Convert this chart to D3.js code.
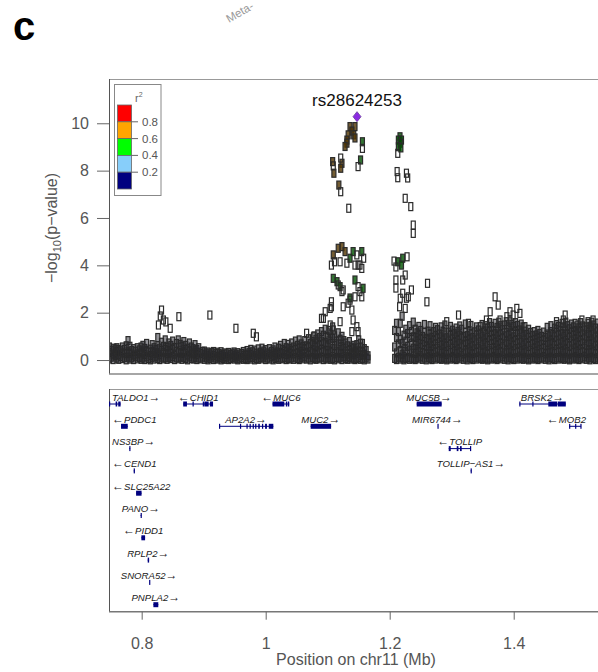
<!DOCTYPE html>
<html><head><meta charset="utf-8">
<script src="https://cdn.jsdelivr.net/npm/d3@7"></script>
<style>body{margin:0;background:#fff}svg{display:block}</style>
</head><body>
<svg id="chart" width="598" height="672"></svg>
<script>
// ---------------- DATA ----------------
const leadSnp = {name: "rs28624253", pos: 1.1473, logp: 10.28};

const xTicks = [0.8, 1.0, 1.2, 1.4];
const xTickLabels = ["0.8", "1", "1.2", "1.4"];
const yTicks = [0, 2, 4, 6, 8, 10];

const r2Breaks = [0.2, 0.4, 0.6, 0.8];
const r2Colors = ["#000080", "#87CEFA", "#00FF00", "#FFA500", "#FF0000"];

// visible start of a rotated label belonging to the figure above
const aboveLabels = ["Meta-"];

// background SNPs: [position (Mb), [-log10 p values at that position]]
const bandLeft = [
 [0.748,[0.05,0.32,0.55]],[0.751,[0.12,0.41]],[0.754,[0.02,0.25,0.50]],[0.757,[0.18,0.47]],
 [0.760,[0.08,0.36,0.52]],[0.763,[0.03,0.22,0.44]],[0.766,[0.15,0.39]],[0.769,[0.06,0.30,0.55]],
 [0.772,[0.10,0.45]],[0.775,[0.01,0.27,0.60]],[0.778,[0.12,0.35,0.82]],[0.781,[0.04,0.29,0.58]],
 [0.784,[0.09,0.40]],[0.787,[0.02,0.21,0.48]],[0.790,[0.14,0.37]],[0.793,[0.05,0.26,0.52]],
 [0.796,[0.11,0.43]],[0.799,[0.03,0.30,0.55]],[0.802,[0.08,0.38,0.62]],[0.805,[0.02,0.24,0.49]],
 [0.808,[0.13,0.41,0.70]],[0.811,[0.06,0.33]],[0.814,[0.01,0.19,0.46]],[0.817,[0.10,0.36,0.65]],
 [0.820,[0.04,0.28,0.52]],[0.823,[0.15,0.44]],[0.826,[0.07,0.31,0.60,0.95]],[0.829,[0.02,0.22,0.50]],
 [0.832,[0.12,0.40,0.75]],[0.835,[0.05,0.33,0.58]],[0.838,[0.09,0.45,0.85]],[0.841,[0.03,0.27,0.55]],
 [0.844,[0.11,0.39,0.72]],[0.847,[0.06,0.30,0.62]],[0.850,[0.14,0.46,0.80]],[0.853,[0.02,0.25,0.53]],
 [0.856,[0.09,0.37,0.70]],[0.859,[0.05,0.31,0.85]],[0.862,[0.12,0.42,0.66]],[0.865,[0.03,0.28,0.58]],
 [0.868,[0.10,0.35,0.78]],[0.871,[0.06,0.44,0.62]],[0.874,[0.01,0.21,0.50]],[0.877,[0.13,0.38,0.72]],
 [0.880,[0.07,0.30,0.55]],[0.883,[0.04,0.26,0.48]],[0.886,[0.11,0.40,0.65]],[0.889,[0.02,0.23,0.44]],
 [0.892,[0.08,0.33,0.52]],[0.895,[0.05,0.28]],[0.898,[0.12,0.36]],[0.901,[0.03,0.22,0.38]],
 [0.904,[0.09,0.30]],[0.907,[0.01,0.18,0.34]],[0.910,[0.06,0.26]],[0.913,[0.12,0.31]],
 [0.916,[0.02,0.20,0.36]],[0.919,[0.08,0.28]],[0.922,[0.04,0.15,0.33]],[0.925,[0.10,0.27]],
 [0.928,[0.01,0.19,0.35]],[0.931,[0.07,0.24]],[0.934,[0.03,0.14,0.30]],[0.937,[0.09,0.26]],
 [0.940,[0.02,0.17,0.32]],[0.943,[0.06,0.23]],[0.946,[0.11,0.29]],[0.949,[0.04,0.18,0.34]],
 [0.952,[0.08,0.25]],[0.955,[0.01,0.16,0.31]],[0.958,[0.05,0.22]],[0.961,[0.10,0.28]],
 [0.964,[0.03,0.19,0.36]],[0.967,[0.07,0.25]],[0.970,[0.02,0.20,0.40]],[0.973,[0.09,0.31]],
 [0.976,[0.04,0.24,0.45]],[0.979,[0.11,0.35]],[0.982,[0.01,0.18,0.42]],[0.985,[0.07,0.29]],
 [0.988,[0.03,0.22,0.47]],[0.991,[0.10,0.33]],[0.994,[0.05,0.26,0.50]],[0.997,[0.12,0.38]],
 [1.000,[0.02,0.21,0.44]],[1.003,[0.08,0.30]],[1.006,[0.04,0.25,0.48]],[1.009,[0.13,0.36]],
 [1.012,[0.01,0.19,0.43]],[1.015,[0.06,0.28,0.55]],[1.018,[0.10,0.34]],[1.021,[0.03,0.23,0.50]],
 [1.024,[0.08,0.31,0.62]],[1.027,[0.05,0.27,0.45]],[1.030,[0.11,0.38,0.70]],[1.033,[0.02,0.24,0.52]],
 [1.036,[0.07,0.33,0.66]],[1.039,[0.04,0.29,0.48]],[1.042,[0.09,0.40,0.72]],[1.045,[0.03,0.26,0.55]],
 [1.048,[0.12,0.44,0.80]],[1.051,[0.06,0.31,0.62]],[1.054,[0.02,0.22,0.50,0.85]],[1.057,[0.10,0.37,0.68]],
 [1.060,[0.05,0.28,0.58]],[1.063,[0.13,0.46,0.82]],[1.066,[0.04,0.33,0.60]],[1.069,[0.08,0.25,0.52,0.90]],
 [1.072,[0.01,0.35,0.70]],[1.075,[0.11,0.42,0.78]],[1.078,[0.06,0.30,0.62,1.02]],[1.081,[0.03,0.24,0.55,0.88]],
 [1.084,[0.09,0.38,0.72,1.10]],[1.087,[0.05,0.29,0.65,0.95]],[1.090,[0.12,0.45,0.80,1.20]],[1.093,[0.02,0.34,0.68,1.05]],
 [1.096,[0.08,0.40,0.75,1.30]],[1.099,[0.04,0.27,0.60,0.98]],[1.102,[0.10,0.42,0.85,1.25]],[1.105,[0.03,0.33,0.70,1.10]],
 [1.108,[0.07,0.48,0.92,1.40]],[1.111,[0.01,0.26,0.62,1.02]],[1.114,[0.11,0.38,0.80]],[1.117,[0.05,0.30,0.68,1.15]],
 [1.120,[0.09,0.44,0.88]],[1.123,[0.02,0.28,0.58,1.00]],[1.126,[0.13,0.50,0.82]],[1.129,[0.06,0.35,0.72]],
 [1.132,[0.03,0.25,0.60]],[1.135,[0.10,0.40,0.78]],[1.138,[0.04,0.30,0.55]],[1.141,[0.08,0.22,0.62]],
 [1.144,[0.02,0.35,0.50]],[1.147,[0.06,0.28,0.65]],[1.150,[0.11,0.38,0.85]],[1.153,[0.03,0.20,0.55]],
 [1.156,[0.07,0.33,0.70]],[1.159,[0.01,0.25,0.48]],[1.162,[0.09,0.40]],[1.165,[0.04,0.18]]
];

const bandRight = [
 [1.208,[0.07,0.55,1.25]],[1.211,[0.02,0.30,0.95,1.55]],[1.214,[0.12,0.68,1.20]],[1.217,[0.04,0.40,0.88,1.55]],
 [1.220,[0.09,0.25,0.70,1.85]],[1.223,[0.01,0.48,1.05]],[1.226,[0.06,0.35,0.80,1.30]],[1.229,[0.11,0.58,1.12]],
 [1.232,[0.03,0.42,0.95,1.45]],[1.235,[0.08,0.30,0.72,1.20]],[1.238,[0.05,0.50,0.98,1.60]],
 [1.241,[0.02,0.28,0.62,0.95,1.30]],[1.244,[0.10,0.45,0.80,1.15]],[1.247,[0.05,0.35,0.70,1.05,1.42]],
 [1.250,[0.13,0.52,0.88,1.25]],[1.253,[0.03,0.30,0.65,1.00]],[1.256,[0.08,0.42,0.78,1.18,1.50]],
 [1.259,[0.01,0.25,0.60,0.92]],[1.262,[0.11,0.48,0.85,1.22]],[1.265,[0.06,0.36,0.72,1.08,1.45]],
 [1.268,[0.02,0.27,0.58,0.96]],[1.271,[0.09,0.44,0.82,1.20]],[1.274,[0.04,0.33,0.68,1.02,1.38]],
 [1.277,[0.12,0.50,0.90,1.28]],[1.280,[0.07,0.38,0.75,1.10]],[1.283,[0.03,0.29,0.62,0.98,1.40]],
 [1.286,[0.10,0.46,0.84,1.22]],[1.289,[0.05,0.34,0.70,1.06,1.48]],[1.292,[0.01,0.24,0.58,0.94]],
 [1.295,[0.08,0.41,0.80,1.18]],[1.298,[0.04,0.31,0.66,1.04,1.42]],[1.301,[0.11,0.49,0.88,1.26]],
 [1.304,[0.06,0.37,0.74,1.12]],[1.307,[0.02,0.28,0.60,0.97,1.35]],[1.310,[0.09,0.45,0.83,1.21]],
 [1.313,[0.05,0.33,0.69,1.05,1.44]],[1.316,[0.13,0.52,0.92,1.30]],[1.319,[0.03,0.26,0.63,1.00]],
 [1.322,[0.08,0.40,0.78,1.16,1.52]],[1.325,[0.01,0.30,0.67,1.03]],[1.328,[0.10,0.47,0.86,1.24]],
 [1.331,[0.06,0.35,0.72,1.09,1.46]],[1.334,[0.02,0.27,0.59,0.95]],[1.337,[0.09,0.43,0.81,1.19]],
 [1.340,[0.04,0.32,0.68,1.06,1.40]],[1.343,[0.12,0.50,0.89,1.27]],[1.346,[0.07,0.38,0.76,1.13]],
 [1.349,[0.03,0.29,0.64,1.01,1.50]],[1.352,[0.10,0.46,0.85,1.23]],[1.355,[0.05,0.34,0.71,1.08,1.45]],
 [1.358,[0.01,0.25,0.60,0.96,1.35]],[1.361,[0.08,0.42,0.82,1.20,1.58]],[1.364,[0.04,0.31,0.67,1.04,1.42]],
 [1.367,[0.11,0.49,0.87,1.25]],[1.370,[0.06,0.37,0.74,1.11,1.55]],[1.373,[0.02,0.28,0.62,0.99,1.38]],
 [1.376,[0.09,0.44,0.83,1.21,1.60]],[1.379,[0.05,0.33,0.70,1.07,1.45]],[1.382,[0.13,0.51,0.90,1.28]],
 [1.385,[0.03,0.26,0.64,1.02,1.48]],[1.388,[0.08,0.40,0.79,1.17,1.62]],[1.391,[0.01,0.30,0.66,1.05,1.40]],
 [1.394,[0.10,0.47,0.86,1.25,1.65]],[1.397,[0.06,0.35,0.73,1.12,1.50]],[1.400,[0.02,0.27,0.61,0.98,1.42]],
 [1.403,[0.09,0.43,0.82,1.20,1.58]],[1.406,[0.04,0.32,0.69,1.07,1.46]],[1.409,[0.12,0.50,0.88,1.27]],
 [1.412,[0.07,0.38,0.75,1.14,1.52]],[1.415,[0.03,0.29,0.63,1.01,1.40]],[1.418,[0.10,0.45,0.84,1.22]],
 [1.421,[0.05,0.34,0.71,1.08]],[1.424,[0.01,0.24,0.58,0.95,1.30]],[1.427,[0.08,0.41,0.80,1.16]],
 [1.430,[0.04,0.31,0.67,1.03]],[1.433,[0.11,0.48,0.86,1.20]],[1.436,[0.06,0.36,0.72,1.06]],
 [1.439,[0.02,0.27,0.60,0.94,1.25]],[1.442,[0.09,0.43,0.79,1.12]],[1.445,[0.05,0.32,0.66,1.00]],
 [1.448,[0.12,0.49,0.85,1.18]],[1.451,[0.03,0.26,0.62,0.96]],[1.454,[0.08,0.40,0.76,1.10,1.38]],
 [1.457,[0.01,0.30,0.65,1.02]],[1.460,[0.10,0.46,0.83,1.20,1.45]],[1.463,[0.06,0.35,0.70,1.08]],
 [1.466,[0.02,0.28,0.61,0.98,1.35]],[1.469,[0.09,0.44,0.81,1.18,1.50]],[1.472,[0.04,0.33,0.68,1.05,1.42]],
 [1.475,[0.11,0.50,0.88,1.26]],[1.478,[0.07,0.37,0.74,1.12,1.55]],[1.481,[0.03,0.29,0.63,1.00,1.40]],
 [1.484,[0.10,0.45,0.83,1.22,1.60]],[1.487,[0.05,0.34,0.70,1.07,1.45]],[1.490,[0.01,0.25,0.59,0.95,1.32]],
 [1.493,[0.08,0.42,0.80,1.18,1.52]],[1.496,[0.04,0.31,0.67,1.04,1.40]],[1.499,[0.12,0.48,0.87,1.24]],
 [1.502,[0.06,0.36,0.73,1.10,1.48]],[1.505,[0.02,0.28,0.62,0.99,1.36]],[1.508,[0.09,0.44,0.82,1.20,1.58]],
 [1.511,[0.05,0.33,0.69,1.06,1.44]],[1.514,[0.13,0.50,0.89,1.27]],[1.517,[0.03,0.27,0.64,1.01,1.40]],
 [1.520,[0.08,0.41,0.78,1.16,1.55]],[1.523,[0.01,0.30,0.66,1.03,1.42]],[1.526,[0.10,0.46,0.85,1.23,1.60]],
 [1.529,[0.06,0.35,0.72,1.10,1.48]],[1.532,[0.02,0.27,0.60,0.97,1.35]],[1.535,[0.09,0.43,0.81,1.19,1.56]],
 [1.538,[0.04,0.32,0.68,1.05]],[1.541,[0.11,0.49,0.86]]
];

// individually read SNPs: [position (Mb), -log10 p, r2]
const peakSnps = [
 [1.136,9.86,0.7],[1.144,9.86,0.7],[1.139,9.67,0.7],[1.142,9.51,0.7],[1.133,9.51,0.7],[1.131,9.29,0.7],
 [1.131,9.16,0.7],[1.144,9.38,0.7],[1.128,9.02,0.7],[1.156,9.22,0.5],[1.156,8.94,0],
 [1.108,8.38,0.7],[1.110,7.89,0.7],[1.123,8.31,0.7],[1.121,8.10,0.7],[1.109,8.20,0],[1.121,8.53,0],
 [1.153,8.45,0.5],[1.149,8.17,0],[1.118,7.39,0.7],[1.121,7.11,0],[1.134,6.41,0],
 [1.2166,9.43,0.5],[1.214,9.29,0.5],[1.219,9.29,0.5],[1.217,9.16,0.5],[1.214,9.01,0.5],[1.213,8.73,0],[1.218,8.96,0.5],
 [1.212,7.96,0],[1.213,7.70,0],[1.227,7.89,0],[1.229,7.69,0],
 [1.225,6.83,0],[1.234,6.48,0],[1.238,5.70,0],[1.238,5.35,0],
 [1.109,4.44,0.6],[1.117,4.72,0.6],[1.123,4.79,0.6],[1.111,4.15,0],[1.128,4.58,0.6],[1.136,4.30,0.5],
 [1.141,4.58,0.5],[1.147,4.44,0],[1.155,4.58,0.5],[1.158,4.30,0],[1.152,4.01,0],[1.144,4.01,0],
 [1.131,4.09,0],[1.106,4.01,0],[1.120,4.15,0],[1.149,4.01,0],[1.155,3.87,0],
 [1.213,4.15,0.5],[1.221,4.30,0.5],[1.228,4.36,0],[1.219,4.01,0.5],[1.207,4.18,0],[1.210,3.93,0],[1.225,3.59,0],
 [1.109,3.45,0.45],[1.115,3.31,0.45],[1.120,3.10,0.45],[1.125,2.96,0],[1.136,2.62,0.45],[1.133,2.40,0],
 [1.144,3.38,0.45],[1.149,3.10,0],[1.152,2.89,0],[1.157,3.03,0.45],[1.144,2.67,0],[1.155,2.67,0],
 [1.117,3.17,0],[1.123,2.89,0],[1.136,2.53,0],[1.125,2.25,0],[1.106,2.25,0],[1.096,2.04,0],[1.093,1.76,0],
 [1.104,1.48,0],[1.139,2.11,0],[1.141,1.69,0],[1.147,1.41,0],[1.149,1.20,0],[1.139,1.20,0],[1.120,1.62,0],
 [1.109,1.27,0],[1.153,0.71,0],[1.157,0.21,0],[1.147,0.42,0],[1.133,0.14,0],[1.141,0.49,0],[1.077,0.98,0],
 [1.066,1.13,0],[1.090,1.76,0],[1.104,2.18,0],[1.106,2.46,0],
 [1.210,3.38,0],[1.221,3.38,0],[1.210,3.04,0],[1.221,2.82,0],[1.217,2.61,0],[1.227,2.61,0],[1.216,2.25,0],
 [1.261,3.24,0],[1.260,2.46,0],[1.235,2.96,0],[1.230,2.67,0],[1.225,2.18,0],
 [1.370,2.67,0],[1.375,2.32,0],[1.405,2.18,0],[1.362,2.04,0],[1.311,1.90,0],[1.292,1.62,0],[1.327,1.55,0],
 [1.399,1.90,0],[1.483,1.90,0],[1.510,1.69,0],[1.528,1.69,0],[1.469,1.62,0],[1.499,1.55,0],[1.520,1.62,0],
 [1.480,1.69,0],[1.356,1.69,0],[1.346,1.41,0],[1.378,1.69,0],[1.389,1.83,0],[1.394,2.04,0],[1.410,1.97,0],[1.418,1.41,0],
 [0.832,2.11,0],[0.835,1.69,0],[0.827,1.48,0],[0.846,1.34,0],[0.860,1.83,0],[0.910,1.90,0],[0.952,1.34,0],
 [0.980,1.13,0],[0.985,0.98,0],[0.830,1.86,0],[0.839,1.61,0]
];

// genes
const geneNames  = ["TALDO1","CHID1","MUC6","MUC5B","BRSK2","PDDC1","AP2A2","MUC2","MIR6744","MOB2",
                    "NS3BP","TOLLIP","CEND1","TOLLIP\u2212AS1","SLC25A22","PANO","PIDD1","RPLP2","SNORA52","PNPLA2"];
const geneStrand = ["+","-","-","+","+","-","+","+","+","-","+","-","-","+","-","+","-","+","+","+"];
const geneRow    = [0,0,0,0,0,1,1,1,1,1,2,2,3,3,4,5,6,7,8,9];
const geneStart  = [0.7473,0.8670,1.0110,1.2435,1.4090,0.7667,0.9247,1.0725,1.2770,1.4893,
                    0.7800,1.2952,0.7871,1.3305,0.7910,0.7983,0.7995,0.8097,0.8120,0.8189];
const geneEnd    = [0.7660,0.9151,1.0380,1.2838,1.4840,0.7775,1.0123,1.1055,1.2772,1.5087,
                    0.7815,1.3306,0.7891,1.3320,0.7998,0.7995,0.8055,0.8120,0.8122,0.8268];
const geneExons  = [
 [[0.7473,0.7480],[0.7580,0.7605],[0.7622,0.7660]],
 [[0.8670,0.8730],[0.8820,0.8840],[0.8985,0.9000],[0.9010,0.9080],[0.9100,0.9151]],
 [[1.0110,1.0300],[1.0325,1.0345],[1.0355,1.0380]],
 [[1.2435,1.2838]],
 [[1.4090,1.4100],[1.4300,1.4310],[1.4558,1.4700],[1.4710,1.4840]],
 [[0.7667,0.7775]],
 [[0.9247,0.9258],[0.9585,0.9595],[0.9690,0.9700],[0.9740,0.9750],[0.9790,0.9800],[0.9830,0.9850],[0.9880,0.9905],[0.9940,0.9960],[0.9990,1.0020],[1.0050,1.0123]],
 [[1.0725,1.1055]],
 [[1.2770,1.2772]],
 [[1.4893,1.4905],[1.4990,1.5000],[1.5075,1.5087]],
 [[0.7800,0.7815]],
 [[1.2952,1.2984],[1.3081,1.3108],[1.3134,1.3161],[1.3295,1.3306]],
 [[0.7871,0.7891]],
 [[1.3305,1.3320]],
 [[0.7910,0.7998]],
 [[0.7983,0.7995]],
 [[0.7995,0.8055]],
 [[0.8097,0.8120]],
 [[0.8120,0.8122]],
 [[0.8189,0.8268]]
];

// ---------------- DRAW ----------------
const FONT = "'Liberation Sans', Arial, Helvetica, sans-serif";
const svg = d3.select("#chart");

const x = d3.scaleLinear().domain([0.7473, 1.544]).range([109, 603]);
const y = d3.scaleLinear().domain([-0.59, 11.87]).range([374, 79]);
const geneY = d3.scaleLinear().domain([0, 9]).range([404, 604.7]);
const r2Color = d3.scaleThreshold().domain(r2Breaks).range(r2Colors);

// rotated label fragment from the figure above
aboveLabels.forEach(t => {
  svg.append("text").attr("transform", "translate(229,23) rotate(-30)")
    .attr("font-family", FONT).attr("font-size", 11.5).attr("fill", "#999").text(t);
});

// panel label "c"
svg.append("text").attr("x", 13).attr("y", 40).attr("font-family", FONT)
  .attr("font-weight", "bold").attr("font-size", 40).attr("fill", "#000").text("c");

// clip for the association panel
svg.append("clipPath").attr("id", "pc").append("rect")
  .attr("x", 109).attr("y", 79).attr("width", 494).attr("height", 295);

// panel frames
svg.append("line").attr("x1", 109).attr("x2", 603).attr("y1", 79.5).attr("y2", 79.5).attr("stroke", "#999");
svg.append("line").attr("x1", 109).attr("x2", 603).attr("y1", 389.5).attr("y2", 389.5).attr("stroke", "#999");

const pts = [];
bandLeft.concat(bandRight).forEach(([p, vals]) => vals.forEach(v => pts.push({pos: p, v: v, r2: 0, band: true})));
peakSnps.forEach(([p, v, r]) => pts.push({pos: p, v: v, r2: r, band: false}));

const g = svg.append("g").attr("clip-path", "url(#pc)");
g.selectAll("rect.snp").data(pts).join("rect").attr("class", "snp")
  .attr("x", d => x(d.pos) - 2).attr("y", d => y(d.v) - 4)
  .attr("width", 4).attr("height", 8)
  .attr("fill", d => d.r2 > 0.2 ? d3.color(r2Color(d.r2)).darker(3.2) : (d.band ? "#26262e" : "none"))
  .attr("fill-opacity", d => d.r2 > 0.2 ? 0.8 : 0.5)
  .attr("stroke", "#2b2b2b").attr("stroke-width", 1.2);

// lead SNP diamond
const lx = x(leadSnp.pos), ly = y(leadSnp.logp);
svg.append("path").attr("d", `M${lx},${ly-5} L${lx+4},${ly} L${lx},${ly+5} L${lx-4},${ly} Z`)
  .attr("fill", "#8B2BE2").attr("stroke", "#6a3d9a").attr("stroke-width", 0.8);
svg.append("text").attr("x", lx).attr("y", 105.5).attr("text-anchor", "middle")
  .attr("font-family", FONT).attr("font-size", 17).attr("fill", "#111").text(leadSnp.name);

// y axis
const yAxis = svg.append("g").attr("transform", "translate(109,0)")
  .call(d3.axisLeft(y).tickValues(yTicks).tickSize(12).tickPadding(8).tickFormat(d3.format("d")));
yAxis.select(".domain").remove();
yAxis.selectAll(".tick line").attr("stroke", "#666");
yAxis.selectAll(".tick text").attr("font-family", FONT).attr("font-size", 16).attr("fill", "#555");
svg.append("line").attr("x1", 109.5).attr("x2", 109.5).attr("y1", 79).attr("y2", 374).attr("stroke", "#555");
svg.append("line").attr("x1", 109).attr("x2", 603).attr("y1", 374).attr("y2", 374).attr("stroke", "#888").attr("stroke-width", 1.6);

// y title
const yt = svg.append("text").attr("transform", "translate(57,228) rotate(-90)")
  .attr("text-anchor", "middle").attr("font-family", FONT).attr("font-size", 16).attr("fill", "#555");
yt.append("tspan").text("\u2212log");
yt.append("tspan").attr("font-size", 11).attr("dy", 4).text("10");
yt.append("tspan").attr("dy", -4).text("(p\u2212value)");

// legend
const lg = svg.append("g");
lg.append("rect").attr("x", 114.5).attr("y", 84.5).attr("width", 46.5).attr("height", 111)
  .attr("fill", "#fff").attr("stroke", "#888");
const legScale = d3.scaleLinear().domain([1, 0]).range([105, 189]);
const segs = [[0.8, 1], [0.6, 0.8], [0.4, 0.6], [0.2, 0.4], [0, 0.2]];
segs.forEach(([a, b]) => {
  lg.append("rect").attr("x", 117.5).attr("y", legScale(b)).attr("width", 14)
    .attr("height", legScale(a) - legScale(b)).attr("fill", r2Color((a + b) / 2)).attr("stroke", "#666").attr("stroke-width", 0.8);
});
r2Breaks.forEach(b => {
  lg.append("line").attr("x1", 131.5).attr("x2", 138).attr("y1", legScale(b)).attr("y2", legScale(b)).attr("stroke", "#666");
  lg.append("text").attr("x", 142).attr("y", legScale(b) + 4).attr("font-family", FONT)
    .attr("font-size", 11.5).attr("fill", "#555").text(b.toFixed(1));
});
const r2t = lg.append("text").attr("x", 135).attr("y", 102).attr("font-family", FONT).attr("font-size", 11).attr("fill", "#666");
r2t.append("tspan").text("r");
r2t.append("tspan").attr("font-size", 7).attr("dy", -5).text("2");

// gene panel
svg.append("line").attr("x1", 109.5).attr("x2", 109.5).attr("y1", 389).attr("y2", 612).attr("stroke", "#555");
svg.append("line").attr("x1", 109).attr("x2", 603).attr("y1", 611.7).attr("y2", 611.7).attr("stroke", "#777").attr("stroke-width", 1.6);

svg.append("clipPath").attr("id", "gc").append("rect")
  .attr("x", 109).attr("y", 389).attr("width", 494).attr("height", 222);
const gg = svg.append("g").attr("clip-path", "url(#gc)");
const NAVY = "#00007F";
geneNames.forEach((name, i) => {
  const gy = geneY(geneRow[i]);
  gg.append("line").attr("x1", x(geneStart[i])).attr("x2", x(geneEnd[i]))
    .attr("y1", gy).attr("y2", gy).attr("stroke", NAVY).attr("stroke-width", 1);
  geneExons[i].forEach(([s, e]) => {
    const w = Math.max(1.2, x(e) - x(s));
    gg.append("rect").attr("x", x(s)).attr("y", gy - 2.5).attr("width", w).attr("height", 5).attr("fill", NAVY);
  });
  const t = svg.append("text").attr("y", gy - 3.5).attr("font-family", FONT).attr("font-style", "italic")
    .attr("font-size", 9.6).attr("fill", "#1a1a1a").attr("text-anchor", "middle");
  const arrow = (txt) => t.append("tspan").attr("font-style", "normal").attr("font-size", 12).text(txt);
  if (geneStrand[i] === "+") { t.append("tspan").text(name); arrow("\u2192"); }
  else { arrow("\u2190"); t.append("tspan").text(name); }
  const w = t.node().getComputedTextLength();
  let cx = x((geneStart[i] + geneEnd[i]) / 2);
  cx = Math.max(cx, 112 + w / 2);
  cx = Math.min(cx, 586 - w / 2);
  t.attr("x", cx);
});

// x axis
const xAxis = svg.append("g").attr("transform", "translate(0,611.7)")
  .call(d3.axisBottom(x).tickValues(xTicks).tickSize(8).tickPadding(18)
    .tickFormat((d, i) => xTickLabels[i]));
xAxis.select(".domain").remove();
xAxis.selectAll(".tick line").attr("stroke", "#666");
xAxis.selectAll(".tick text").attr("font-family", FONT).attr("font-size", 16).attr("fill", "#555");
svg.append("text").attr("x", 356).attr("y", 665).attr("text-anchor", "middle").attr("font-family", FONT)
  .attr("font-size", 16).attr("fill", "#555").text("Position on chr11 (Mb)");
</script>
</body></html>
